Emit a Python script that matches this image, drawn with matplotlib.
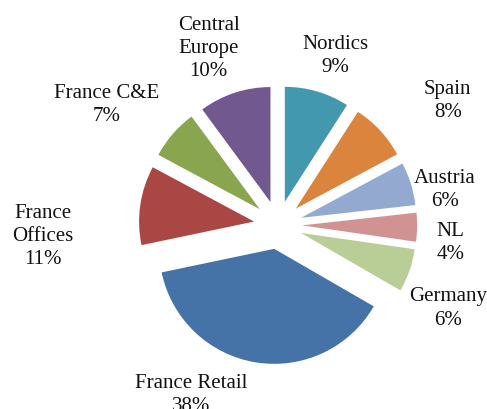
import matplotlib
matplotlib.use("Agg")
import matplotlib.pyplot as plt
import numpy as np

labels = ["Nordics", "Spain", "Austria", "NL", "Germany",
          "France Retail", "France\nOffices", "France C&E", "Central\nEurope"]
shares = [9, 8, 6, 4, 6, 38, 11, 7, 10]
colors = ["#4198AF", "#DB843D", "#93A9CF", "#D19392", "#B9CD96",
          "#4572A7", "#AA4643", "#89A54E", "#71588F"]

# label placement: angle tweak (deg, clockwise) and distance in radii
label_shift = [2.5, 6.5, 5.5, 5.0, 7.0, 18.0, -11.0, -6.0, -3.3]
label_dist = [1.55, 1.83, 1.48, 1.51, 1.65, 1.66, 2.05, 1.82, 1.65]

plt.rcParams["font.family"] = ["Liberation Serif", "DejaVu Serif"]

W, H = 487, 409
fig = plt.figure(figsize=(W / 100, H / 100), dpi=100)
ax = fig.add_axes([0, 0, 1, 1])

cx, cy, R = 278, H - 225, 115
wedges, _ = ax.pie(shares, colors=colors, startangle=90, counterclock=False,
                   explode=[0.21 * R] * len(shares), radius=R, center=(cx, cy),
                   wedgeprops=dict(linewidth=0))

total = sum(shares)
start = 0.0
for i, lab in enumerate(labels):
    mid = (start + shares[i] / 2) / total * 360 + label_shift[i]
    start += shares[i]
    a = np.deg2rad(mid)
    x = cx + label_dist[i] * R * np.sin(a)
    y = cy + label_dist[i] * R * np.cos(a)
    ax.text(x, y, f"{lab}\n{shares[i]}%", ha="center", va="center",
            multialignment="center", fontsize=15, color="#111111",
            linespacing=1.3)

ax.set_xlim(0, W)
ax.set_ylim(0, H)
ax.set_aspect("auto")
ax.axis("off")

fig.savefig("out.png", dpi=100)
